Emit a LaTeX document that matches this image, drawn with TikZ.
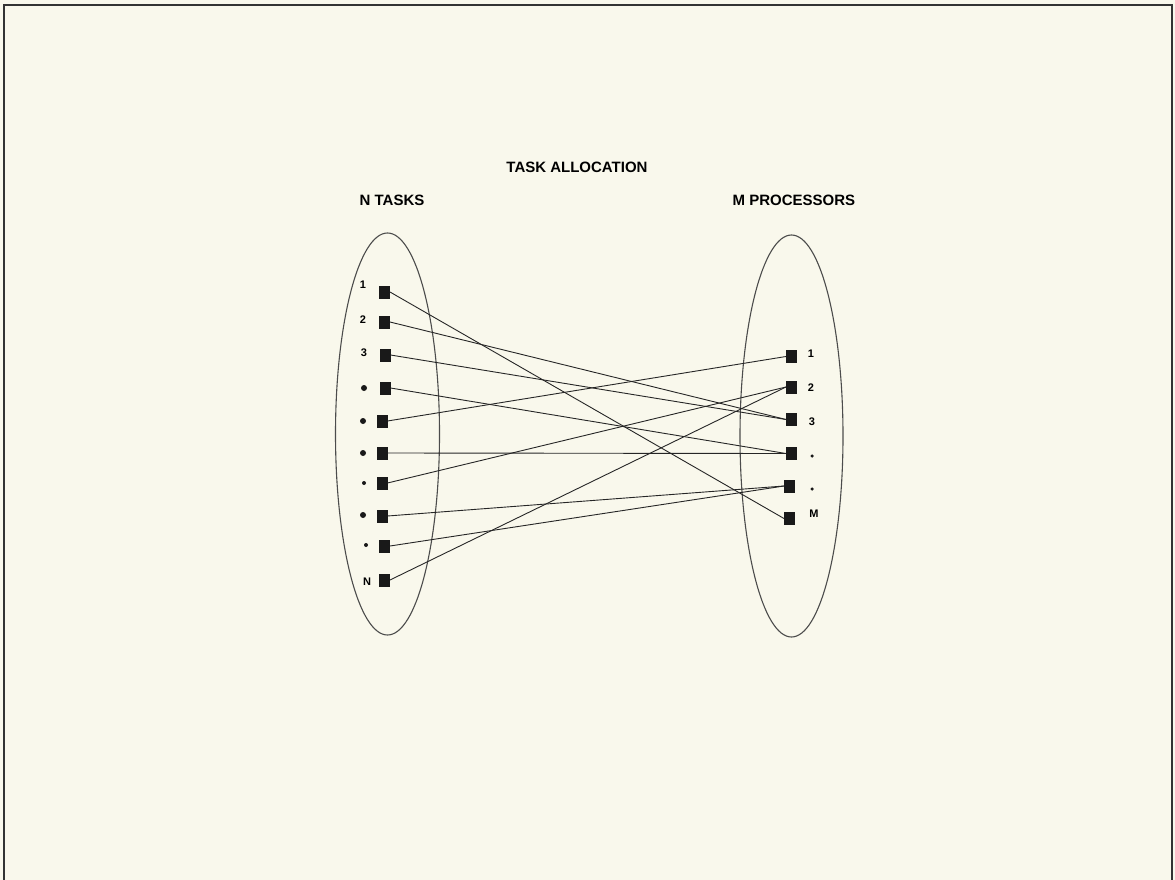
\documentclass[tikz,border=0pt]{standalone}
\usepackage{fontspec}
\setmainfont{Liberation Sans}
\usetikzlibrary{shapes.geometric}
\begin{document}
\begin{tikzpicture}[x=1pt,y=-1pt,
  sq/.style={fill=black!90,draw=none,minimum width=11pt,minimum height=13pt,inner sep=0pt,outer sep=0pt},
  lab/.style={font=\fontsize{11}{11}\selectfont\bfseries,inner sep=0pt},
  ttl/.style={font=\fontsize{15}{15}\selectfont\bfseries,inner sep=0pt},
  wire/.style={line width=0.9pt,draw=black!85},
  oval/.style={line width=1.1pt,draw=black!70},
  bigdot/.style={circle,fill=black!90,minimum size=6pt,inner sep=0pt},
  smdot/.style={circle,fill=black!90,minimum size=4pt,inner sep=0pt},
  tdot/.style={circle,fill=black!90,minimum size=3.5pt,inner sep=0pt}]
\fill[fill={rgb,255:red,249;green,248;blue,236}] (0,0) rectangle (1175,880);
\useasboundingbox (0,0) rectangle (1175,880);
\draw[line width=2.2pt,draw=black!80] (4,880) -- (4,5) -- (1172,5) -- (1172,880);
% titles
\node[ttl] (title) at (577,167) {TASK ALLOCATION};
\node[ttl] (ntasks) at (392,200) {N TASKS};
\node[ttl] (mproc) at (794,200) {M PROCESSORS};
% ellipses
\node[oval,ellipse,minimum width=104pt,minimum height=402pt,inner sep=0pt] (lell) at (387.5,434) {};
\node[oval,ellipse,minimum width=103pt,minimum height=402pt,inner sep=0pt] (rell) at (791.5,436) {};
% left squares
\node[sq] (L1) at (384.5,292) {};
\node[sq] (L2) at (384.5,322) {};
\node[sq] (L3) at (385,355) {};
\node[sq] (L4) at (385,388) {};
\node[sq] (L5) at (382,421) {};
\node[sq] (L6) at (382,453) {};
\node[sq] (L7) at (382,483) {};
\node[sq] (L8) at (382,516) {};
\node[sq] (L9) at (384.5,546) {};
\node[sq] (LN) at (384.5,580) {};
% left labels
\node[lab] (l1) at (363,285) {1};
\node[lab] (l2) at (363,320) {2};
\node[lab] (l3) at (364,353) {3};
\node[bigdot] (l4) at (364,388) {};
\node[bigdot] (l5) at (363,421) {};
\node[bigdot] (l6) at (363,453) {};
\node[smdot] (l7) at (364,483) {};
\node[bigdot] (l8) at (363,515) {};
\node[smdot] (l9) at (366,545) {};
\node[lab] (lN) at (367,582) {N};
% right squares
\node[sq] (R1) at (791.5,356.5) {};
\node[sq] (R2) at (791.5,387) {};
\node[sq] (R3) at (791.5,419.5) {};
\node[sq] (R4) at (791.5,453.5) {};
\node[sq] (R5) at (789.5,486) {};
\node[sq] (RM) at (789.5,518.5) {};
% right labels
\node[lab] (r1) at (811,354) {1};
\node[lab] (r2) at (811,388) {2};
\node[lab] (r3) at (812,422) {3};
\node[tdot] (r4) at (812,456) {};
\node[tdot] (r5) at (812,489) {};
\node[lab] (rM) at (814,514) {M};
% connectors
\draw[wire] (L1.east) -- (RM.west);
\draw[wire] (L2.east) -- (R3.west);
\draw[wire] (L3.east) -- (R3.west);
\draw[wire] (L4.east) -- (R4.west);
\draw[wire] (L5.east) -- (R1.west);
\draw[wire] (L6.east) -- (R4.west);
\draw[wire] (L7.east) -- (R2.west);
\draw[wire] (L8.east) -- (R5.west);
\draw[wire] (L9.east) -- (R5.west);
\draw[wire] (LN.east) -- (R2.west);
\end{tikzpicture}
\end{document}
